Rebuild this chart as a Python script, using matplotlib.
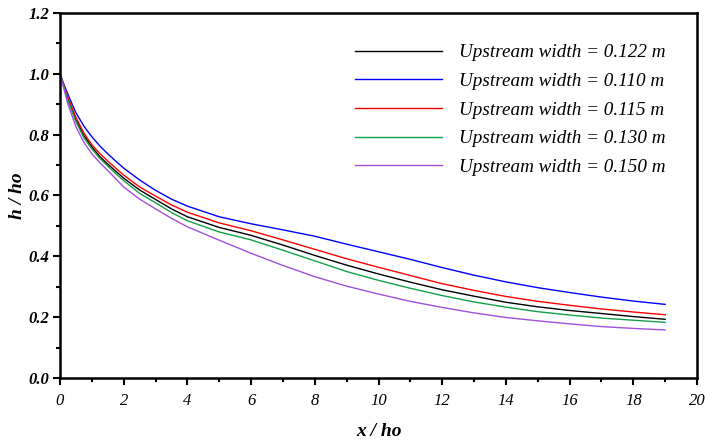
import matplotlib
matplotlib.use("Agg")
import matplotlib.pyplot as plt
from matplotlib.ticker import MultipleLocator, FormatStrFormatter

# Dimensionless distance along the channel
x = [0, 0.1, 0.25, 0.5, 0.75, 1, 1.25, 1.5, 1.75, 2, 2.5, 3, 3.5, 4, 5, 6,
     7, 8, 9, 10, 11, 12, 13, 14, 15, 16, 17, 18, 19]

# Relative flow depth h/ho for each upstream width
h_0122 = [1.0, 0.966, 0.915, 0.848, 0.797, 0.76, 0.728, 0.703, 0.68, 0.657,
          0.618, 0.587, 0.556, 0.53, 0.495, 0.469, 0.437, 0.403, 0.371,
          0.342, 0.315, 0.29, 0.269, 0.249, 0.234, 0.222, 0.212, 0.202, 0.193]
h_0110 = [1.0, 0.972, 0.932, 0.872, 0.828, 0.793, 0.763, 0.737, 0.713, 0.69,
          0.651, 0.617, 0.588, 0.565, 0.53, 0.507, 0.487, 0.466, 0.44,
          0.415, 0.39, 0.363, 0.338, 0.316, 0.297, 0.281, 0.266, 0.253, 0.242]
h_0115 = [1.0, 0.968, 0.922, 0.857, 0.805, 0.767, 0.738, 0.713, 0.69, 0.667,
          0.628, 0.598, 0.569, 0.545, 0.51, 0.484, 0.454, 0.423, 0.392,
          0.364, 0.337, 0.31, 0.288, 0.268, 0.252, 0.239, 0.227, 0.217, 0.208]
h_0130 = [1.0, 0.965, 0.912, 0.843, 0.79, 0.753, 0.722, 0.697, 0.672, 0.649,
          0.607, 0.576, 0.544, 0.517, 0.48, 0.454, 0.42, 0.385, 0.35,
          0.321, 0.295, 0.271, 0.25, 0.233, 0.218, 0.207, 0.197, 0.19, 0.183]
h_0150 = [1.0, 0.96, 0.9, 0.826, 0.775, 0.737, 0.708, 0.682, 0.655, 0.628,
          0.588, 0.556, 0.525, 0.497, 0.453, 0.41, 0.37, 0.333, 0.302,
          0.276, 0.252, 0.232, 0.214, 0.199, 0.188, 0.178, 0.169, 0.163, 0.158]

series = [
    (h_0122, "#000000", "Upstream width = 0.122 m"),
    (h_0110, "#0000FF", "Upstream width = 0.110 m"),
    (h_0115, "#FF0000", "Upstream width = 0.115 m"),
    (h_0130, "#12A04A", "Upstream width = 0.130 m"),
    (h_0150, "#A050DC", "Upstream width = 0.150 m"),
]

serif = ["Liberation Serif", "DejaVu Serif"]

fig = plt.figure(figsize=(7.05, 4.43), dpi=100)
ax = fig.add_axes([0.0851, 0.1467, 0.9036, 0.824])

for h, color, label in series:
    ax.plot(x, h, color=color, lw=1.0, label=label)

ax.set_xlim(0, 20)
ax.set_ylim(0, 1.2)
ax.xaxis.set_major_locator(MultipleLocator(2))
ax.xaxis.set_minor_locator(MultipleLocator(1))
ax.yaxis.set_major_locator(MultipleLocator(0.2))
ax.yaxis.set_minor_locator(MultipleLocator(0.1))
ax.xaxis.set_major_formatter(FormatStrFormatter("%d"))
ax.yaxis.set_major_formatter(FormatStrFormatter("%.1f"))

for s in ax.spines.values():
    s.set_linewidth(1.8)

ax.tick_params(which="both", direction="out", top=False, right=False, width=1.5)
ax.tick_params(which="major", length=5)
ax.tick_params(which="minor", length=3)
ax.tick_params(axis="x", pad=6)
ax.tick_params(axis="y", pad=2.5)

for lab in ax.get_xticklabels():
    lab.set_fontfamily(serif)
    lab.set_fontstyle("italic")
    lab.set_fontsize(12)
for lab in ax.get_yticklabels():
    lab.set_fontfamily(serif)
    lab.set_fontstyle("italic")
    lab.set_fontweight("bold")
    lab.set_fontsize(12)

ax.set_xlabel("x / ho", family=serif, style="italic", weight="bold",
              fontsize=14, labelpad=10)
ax.set_ylabel("h / ho", family=serif, style="italic", weight="bold",
              fontsize=14, labelpad=2)

leg = ax.legend(loc="upper left", bbox_to_anchor=(0.463, 0.915),
                frameon=False, borderpad=0, borderaxespad=0,
                handlelength=4.55, handletextpad=0.9, labelspacing=0.585,
                prop={"family": serif, "style": "italic", "size": 13.8})

fig.savefig("out.png", dpi=100)
